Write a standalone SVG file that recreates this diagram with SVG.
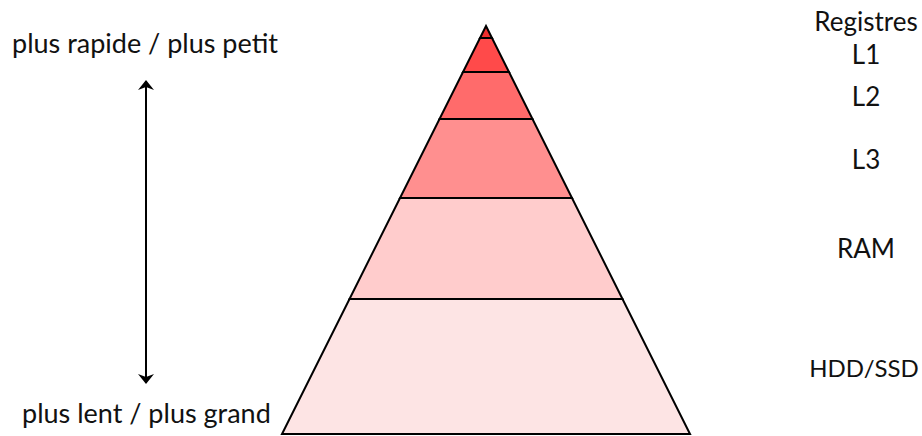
<svg xmlns="http://www.w3.org/2000/svg" width="922" height="436" viewBox="0 0 922 436">
<style>
.t{font-family:Lato,"Liberation Sans",sans-serif;font-size:26px;fill:#111}
.l{font-size:27px}
.s{font-size:24px}
.c{text-anchor:middle}
.lv{stroke:#000;stroke-width:2;stroke-linejoin:miter}
</style>
<defs>
<marker id="ah" viewBox="0 0 10 16" refX="9" refY="8" markerWidth="10" markerHeight="16" orient="auto-start-reverse" markerUnits="userSpaceOnUse">
<path d="M0,0 L10,8 L0,16 L3,8 Z" fill="#000"/>
</marker>
</defs>
<rect width="922" height="436" fill="#fff"/>
<g id="pyramid">
<g id="hdd"><polygon class="lv" points="349.5,299 622.5,299 690,434 282,434" fill="#fde4e4"/></g>
<g id="ram"><polygon class="lv" points="400,198 572,198 622.5,299 349.5,299" fill="#ffcccc"/></g>
<g id="l3"><polygon class="lv" points="439.5,119 532.5,119 572,198 400,198" fill="#ff8f8f"/></g>
<g id="l2"><polygon class="lv" points="463,72 509,72 532.5,119 439.5,119" fill="#ff6b6b"/></g>
<g id="l1"><polygon class="lv" points="480,38 492,38 509,72 463,72" fill="#ff4a4a"/></g>
<g id="registres"><polygon class="lv" points="486,26 492,38 480,38" fill="#ee2e2e"/></g>
</g>
<g id="labels">
<text class="t c" x="866" y="31">Registres</text>
<text class="t c" x="866" y="64">L1</text>
<text class="t c" x="866" y="106">L2</text>
<text class="t c" x="866" y="169">L3</text>
<text class="t c" x="866" y="258">RAM</text>
<text class="t s c" x="864" y="377">HDD/SSD</text>
<text class="t l" x="12" y="53">plus rapide / plus petit</text>
<text class="t l" x="22" y="423">plus lent / plus grand</text>
</g>
<g id="connectors">
<line x1="146" y1="81" x2="146" y2="383" stroke="#000" stroke-width="2" marker-start="url(#ah)" marker-end="url(#ah)"/>
</g>
</svg>
